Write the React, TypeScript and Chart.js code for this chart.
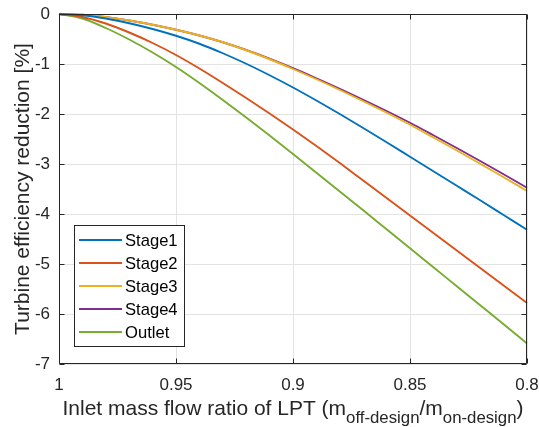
import React, { useEffect, useRef } from "react";
import { Chart, registerables } from "chart.js";

Chart.register(...registerables);

const xValues = [1, 0.99, 0.98, 0.97, 0.96, 0.95, 0.94, 0.93, 0.92, 0.91, 0.9, 0.89, 0.88, 0.87, 0.86, 0.85, 0.84, 0.83, 0.82, 0.81, 0.8];
const stage1 = [0, -0.025, -0.09, -0.185, -0.30, -0.435, -0.595, -0.785, -0.995, -1.225, -1.47, -1.73, -2.00, -2.28, -2.565, -2.855, -3.145, -3.435, -3.725, -4.02, -4.315];
const stage2 = [0, -0.06, -0.19, -0.37, -0.58, -0.82, -1.09, -1.38, -1.68, -1.99, -2.31, -2.64, -2.98, -3.33, -3.68, -4.03, -4.38, -4.73, -5.08, -5.43, -5.78];
const stage3 = [0, -0.015, -0.06, -0.13, -0.215, -0.315, -0.43, -0.565, -0.725, -0.905, -1.10, -1.305, -1.52, -1.745, -1.975, -2.215, -2.47, -2.73, -2.995, -3.265, -3.54];
const stage4 = [0, -0.015, -0.06, -0.13, -0.215, -0.315, -0.43, -0.565, -0.72, -0.895, -1.085, -1.285, -1.495, -1.715, -1.94, -2.175, -2.425, -2.68, -2.94, -3.205, -3.475];
const outlet = [0, -0.09, -0.28, -0.51, -0.77, -1.06, -1.38, -1.72, -2.07, -2.43, -2.80, -3.175, -3.55, -3.925, -4.305, -4.685, -5.065, -5.445, -5.825, -6.205, -6.59];

const seriesLabels = ["Stage1", "Stage2", "Stage3", "Stage4", "Outlet"];
const seriesColors = ["#0072BD", "#D95319", "#EDB120", "#7E2F8E", "#77AC30"];
const seriesValues = [stage1, stage2, stage3, stage4, outlet];

const xTicks = [1, 0.95, 0.9, 0.85, 0.8];
const yTicks = [0, -1, -2, -3, -4, -5, -6, -7];
const yTitle = "Turbine efficiency reduction [%]";
const xTitleParts = [
  { text: "Inlet mass flow ratio of LPT (m", sub: false },
  { text: "off-design", sub: true },
  { text: "/m", sub: false },
  { text: "on-design", sub: true },
  { text: ")", sub: false },
];

const FONT = '"Liberation Sans", Arial, sans-serif';
const TEXT = "#262626";

const decorPlugin = {
  id: "matlabDecor",
  afterDatasetsDraw(chart: any) {
    const { ctx, chartArea } = chart;
    const { left, right, top, bottom } = chartArea;
    const xs = chart.scales.x;
    const ys = chart.scales.y;
    ctx.save();
    ctx.strokeStyle = TEXT;
    ctx.lineWidth = 1;
    ctx.beginPath();
    const L = Math.round(left) + 0.5, R = Math.round(right) - 0.5, T = Math.round(top) + 0.5, B = Math.round(bottom) - 0.5;
    ctx.rect(L, T, R - L, B - T);
    const tl = 5;
    xTicks.forEach((v) => {
      const p = Math.round(xs.getPixelForValue(v)) + 0.5;
      ctx.moveTo(p, B); ctx.lineTo(p, B - tl);
      ctx.moveTo(p, T); ctx.lineTo(p, T + tl);
    });
    yTicks.forEach((v) => {
      const p = Math.round(ys.getPixelForValue(v)) + 0.5;
      ctx.moveTo(L, p); ctx.lineTo(L + tl, p);
      ctx.moveTo(R, p); ctx.lineTo(R - tl, p);
    });
    ctx.stroke();
    ctx.restore();
  },
  afterDraw(chart: any) {
    const { ctx, chartArea } = chart;
    const { left, right, top, bottom } = chartArea;
    ctx.save();
    ctx.fillStyle = TEXT;
    ctx.font = `21px ${FONT}`;
    ctx.translate(28.5, (top + bottom) / 2);
    ctx.rotate(-Math.PI / 2);
    ctx.textAlign = "center";
    ctx.textBaseline = "alphabetic";
    ctx.fillText(yTitle, 0, 0);
    ctx.restore();

    ctx.save();
    ctx.fillStyle = TEXT;
    ctx.textBaseline = "alphabetic";
    ctx.textAlign = "left";
    const mainFont = `21px ${FONT}`;
    const subFont = `16.8px ${FONT}`;
    let total = 0;
    const widths = xTitleParts.map((p) => {
      ctx.font = p.sub ? subFont : mainFont;
      const w = ctx.measureText(p.text).width;
      total += w;
      return w;
    });
    let x = (left + right) / 2 - total / 2;
    const baseY = 415;
    xTitleParts.forEach((p, i) => {
      ctx.font = p.sub ? subFont : mainFont;
      ctx.fillText(p.text, x, p.sub ? baseY + 8 : baseY);
      x += widths[i];
    });
    ctx.restore();

    ctx.save();
    const bx = 74.5, by = 225.5, bw = 110, bh = 121;
    ctx.fillStyle = "#ffffff";
    ctx.fillRect(bx, by, bw, bh);
    ctx.strokeStyle = TEXT;
    ctx.lineWidth = 1;
    ctx.strokeRect(bx, by, bw, bh);
    ctx.font = `16.6px ${FONT}`;
    ctx.textBaseline = "middle";
    ctx.textAlign = "left";
    chart.data.datasets.forEach((ds: any, i: number) => {
      const cy = 240 + i * 23;
      ctx.strokeStyle = ds.borderColor;
      ctx.lineWidth = 2;
      ctx.beginPath();
      ctx.moveTo(79, cy);
      ctx.lineTo(122, cy);
      ctx.stroke();
      ctx.fillStyle = "#000000";
      ctx.fillText(ds.label, 125, cy + 1);
    });
    ctx.restore();
  },
};

export default function App() {
  const ref = useRef<HTMLCanvasElement | null>(null);
  useEffect(() => {
    document.body.style.margin = "0";
    const canvas = ref.current;
    if (!canvas) return;
    const chart = new Chart(canvas, {
      type: "line",
      data: {
        datasets: seriesValues.map((vals, i) => ({
          label: seriesLabels[i],
          data: xValues.map((xv, j) => ({ x: xv, y: vals[j] })),
          borderColor: seriesColors[i],
          backgroundColor: seriesColors[i],
          borderWidth: 1.9,
          pointRadius: 0,
          cubicInterpolationMode: "monotone" as const,
          clip: false as any,
        })),
      },
      options: {
        responsive: false,
        animation: false,
        devicePixelRatio: 1,
        layout: { padding: { top: 14, right: 12, left: 0, bottom: 0 } },
        plugins: { legend: { display: false }, tooltip: { enabled: false } },
        scales: {
          x: {
            type: "linear",
            reverse: true,
            min: 0.8,
            max: 1,
            afterBuildTicks: (scale: any) => {
              scale.ticks = xTicks.map((v) => ({ value: v }));
            },
            afterFit: (scale: any) => {
              scale.height = 63;
              scale.paddingLeft = 0;
              scale.paddingRight = 0;
            },
            ticks: {
              callback: (v: any) => String(Number(Number(v).toFixed(2))),
              font: { family: FONT, size: 17 },
              color: TEXT,
              padding: 11,
              maxRotation: 0,
              autoSkip: false,
            },
            grid: { color: "#e3e3e3", lineWidth: 1, drawTicks: false },
            border: { display: false },
          },
          y: {
            type: "linear",
            min: -7,
            max: 0,
            afterBuildTicks: (scale: any) => {
              scale.ticks = yTicks.map((v) => ({ value: v }));
            },
            afterFit: (scale: any) => {
              scale.width = 59;
              scale.paddingTop = 0;
              scale.paddingBottom = 0;
            },
            ticks: {
              callback: (v: any) => String(v),
              font: { family: FONT, size: 17 },
              color: TEXT,
              padding: 9,
              autoSkip: false,
            },
            grid: { color: "#e3e3e3", lineWidth: 1, drawTicks: false },
            border: { display: false },
          },
        },
      },
      plugins: [decorPlugin],
    } as any);
    return () => chart.destroy();
  }, []);
  return (
    <div style={{ position: "fixed", left: 0, top: 0, width: 539, height: 427, background: "#fff" }}>
      <canvas ref={ref} width={539} height={427} style={{ width: 539, height: 427, display: "block" }} />
    </div>
  );
}
